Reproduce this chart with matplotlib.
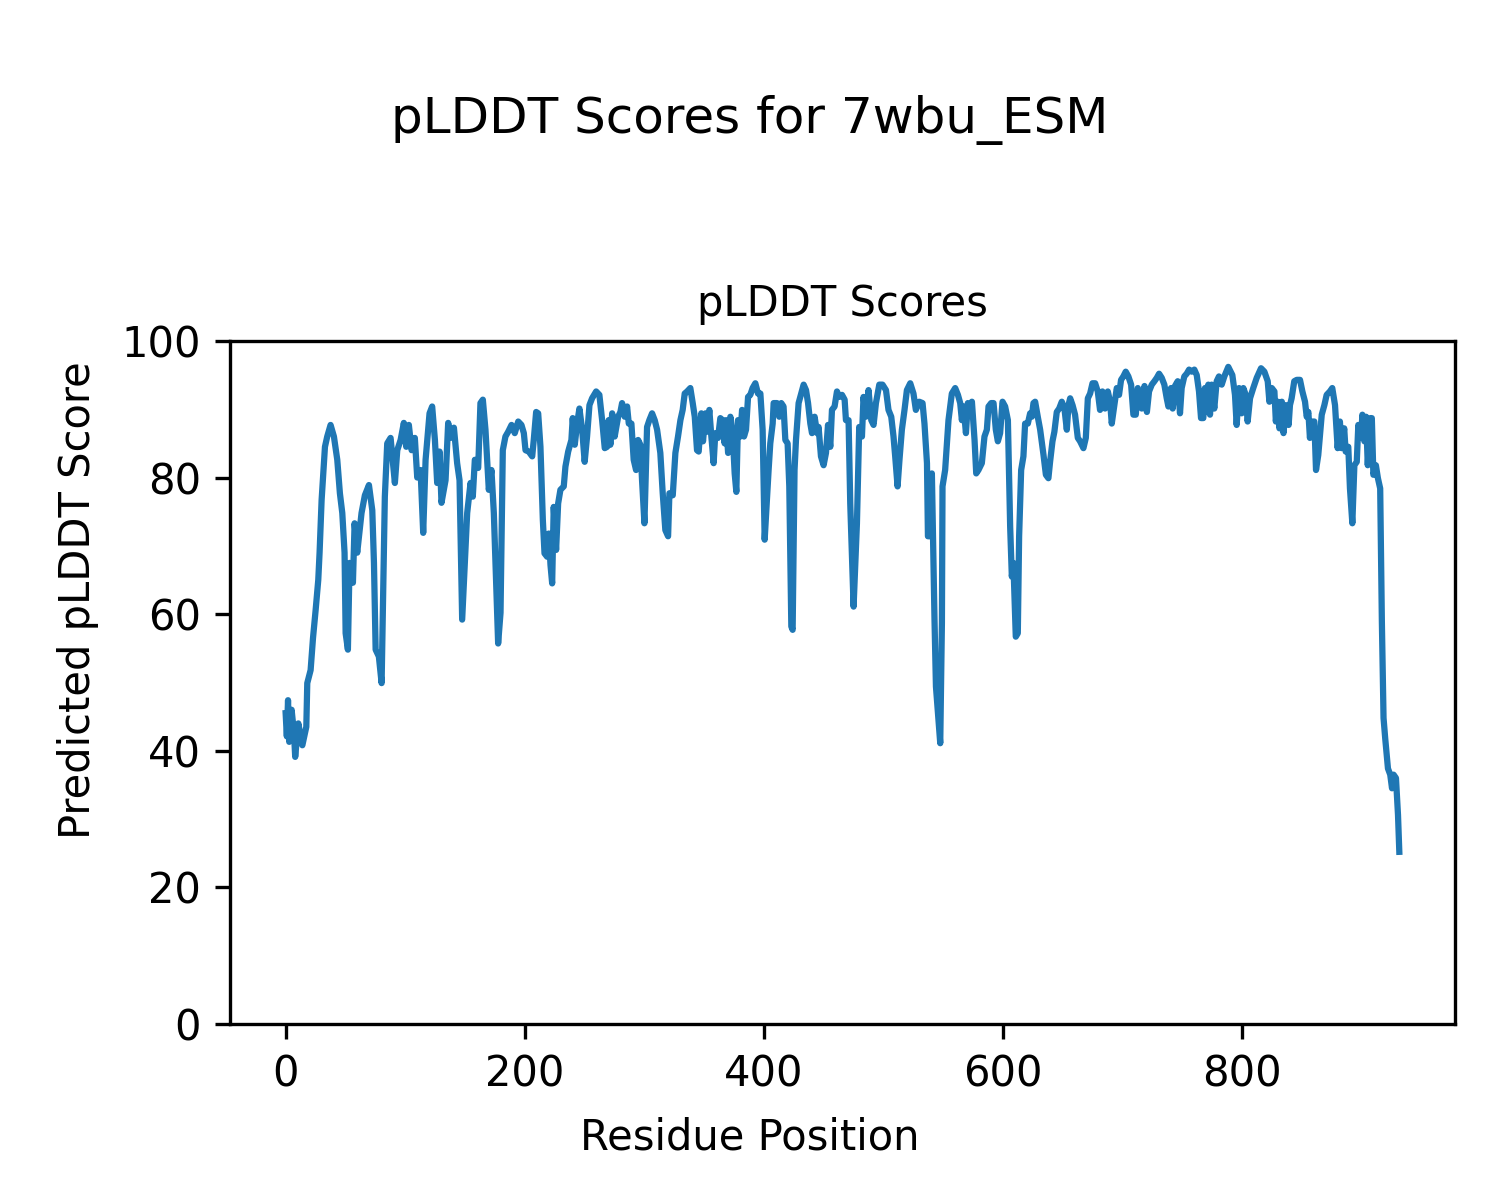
import matplotlib
matplotlib.use('Agg')
from matplotlib import pyplot as plt

protein = '7wbu_ESM'

# residue positions and pLDDT scores
residues = [
    0, 1, 2, 3, 5, 7, 8, 10.6, 14, 17.3, 18.1, 20.9, 22.9, 25.1, 27.3, 28.4, 30.1, 32.9, 34.8, 37.6,
    40.4, 43.2, 45.4, 47.4, 49.3, 50.2, 52.1, 53.5, 56.3, 57.7, 59.9, 63.5, 66.3, 69.7, 72.5, 73.9,
    75.3, 78, 80.3, 83, 85, 87.8, 91.4, 93.4, 96.2, 98.9, 100.9, 103.1, 105.4, 108.1, 110.1, 112.9,
    115.1, 117.1, 120.4, 122.6, 124.9, 126.8, 128.8, 130.4, 133.8, 136, 138, 140.8, 143.5, 145.5,
    147.7, 151.9, 154.7, 156.6, 158.3, 161.1, 163, 165, 167.2, 168.6, 170, 172.2, 174.2, 177.8,
    179.8, 181.7, 183.9, 186.2, 189, 191.7, 194.6, 197.3, 199.3, 200.7, 203.4, 206.3, 207.6, 209.6,
    211.3, 213.2, 215.2, 216.6, 218.8, 220.2, 221.6, 223, 224.3, 226.3, 228, 229.9, 232.7, 234.1,
    236.4, 239.1, 240.2, 241.9, 243.9, 245.8, 248.1, 250.2, 252.2, 254.2, 256.4, 259.8, 262.5,
    264.8, 267, 269, 270.3, 271.7, 273.2, 275.3, 278.2, 280.1, 281.5, 283.7, 285.7, 287.1, 289.3,
    291.2, 293.2, 294.9, 296.8, 298.2, 300.2, 302.4, 304.3, 306.6, 308.8, 310.8,
    313.5, 315.5, 317.7, 320, 321.1, 323.9, 326.1, 328.3, 330.3, 332.2, 333.9, 335.9, 338.6, 340.6,
    342.3, 344.2, 345.6, 347.8, 349.2, 351.3, 352.6, 354.5, 356.2, 358.1, 359.5, 361.8, 363.7,
    365.6, 367.3, 368.5, 370.2, 372.1, 374, 375.7, 377.1, 378.5, 380.4, 381.9, 383.5, 385.2, 386.9,
    388.8, 390.7, 393, 395.2, 397.2, 399.1, 400.8, 402.8, 404.1, 405.5, 407.5, 408.3, 411.1, 413,
    414.7, 416.6, 418.1, 420, 421.4, 423.1, 424.2, 425.8, 427, 429.2, 431.4, 433.4, 435.4, 437.1,
    439, 440.4, 442.6, 444.6, 445.9, 447.9, 450.1, 452.1, 453.8, 455.7, 457.1, 459.3, 461.3, 463.2,
    465.5, 467.7, 468.8,
    471, 472.4, 475.2, 478, 479.9, 482.2, 483.5, 485.5, 487.7, 490, 491.9, 493.9, 496.7, 499.4,
    502.3, 504.4, 506.7, 508.6, 510, 512, 513.6, 515.6, 517.8, 519.8, 522.6, 525.3, 527.3, 530.1,
    532.9, 534.5, 536.6, 537.4, 539.3, 540.7, 542.9, 544.1, 546.2, 547.7, 549.1, 549.6, 551.8,
    554.6, 557.4, 560.2, 562.5, 564.4, 565.8, 567.2, 569.2, 570.8, 572.7, 574.2, 576.4, 577.8,
    579.7, 582.5, 584.7, 586.7, 588.1, 590.3, 592.3, 594.2, 595.9, 597.8, 599.8, 602, 604.3, 606.2,
    607.6, 608.9, 610.9, 612.6, 613.7, 615.4, 617.3, 618.7, 621, 622.9, 624.3, 625.7, 627.1, 629.3,
    631.3,
    634.1, 636.1, 638.2, 639.6, 641.6, 643.2, 645.2, 647.2, 649.4, 651.6, 653.6, 655, 656.4, 658.4,
    660.5, 662.8, 664.7, 667.5, 669.5, 671.2, 673.1, 675.1, 677.3, 679.5, 681.4, 683.4, 685.6,
    687.9, 689.8, 691.2, 693.4, 695.4, 697.3, 699, 700.9, 702.9, 705.1, 707.4, 709.3, 711.3, 713,
    714.9, 716.3, 718.6, 720.6, 722.4, 724.7, 726.9, 728.9, 730.8, 733, 735.2, 737.2, 738.6, 740.8,
    742.2, 744.1, 746.4, 748.3, 749.7, 751.9, 753.9, 755.9, 758.1, 760.3, 762.3, 764.2, 765.9,
    767.8, 769.2, 770.6, 772, 773.4, 774.8, 777, 779, 780.9, 783.2, 785.4,
    788.7, 792.1, 794.3, 795.7, 797.7, 799.9, 801.3, 803.3, 804.9, 806.9, 809.6, 812.5, 816.1,
    818.9, 821.7, 823.1, 825.1, 827.3, 828.5, 830.2, 831.5, 833.5, 834.9, 836.9, 839.2, 840.3,
    841.7, 843.9, 846, 848.7, 850.7, 852.9, 854.3, 855.7, 857, 859, 860.7, 862.1, 864, 865.4, 866.9,
    869.1, 871, 873.7, 875.7, 878, 880.2, 882.1, 883.5, 885.7, 886.9, 889.1, 890.5, 892.5, 894.2,
    896.2, 897.5, 899.8, 900.9, 902.6, 904, 905.4, 907.4, 908.8, 910.1, 912.2, 913.9, 915.8, 917.2,
    918.6, 920, 922.3, 924.2, 925.7, 927, 929, 930.7, 931.8,
]
plddt = [
    45.5, 42.1, 47.4, 41.3, 46, 42.6, 39.1, 44, 40.8, 43.5, 49.9, 51.8, 56.5, 60.6, 65, 69, 76.7, 84.5, 86, 87.7,
    86, 82.6, 77.7, 74.8, 69, 57.2, 54.8, 67.5, 64.6, 73.3, 69, 74.8, 77.4, 78.9, 75.2, 67.5,
    54.8, 53.8, 49.9, 77.2, 85, 85.8, 79.2, 84, 85.5, 88, 84.5, 87.7, 84, 85.8, 80, 81.1,
    71.9, 82.6, 89.4, 90.4, 85.5, 79.2, 83.8, 76.3, 79.6, 88, 85.8, 87.3, 82.1, 79.6,
    59.2, 74.8, 79.2, 77.2, 82.6, 81.4, 90.9, 91.4, 87, 82.6, 78.2, 81.1, 74.8, 55.7,
    60.2, 84, 86, 86.7, 87.7, 86.5, 88.2, 87.7, 86.5, 84, 83.8, 83.1, 85.5, 89.6,
    89.4, 84.5, 73.8, 68.9, 68.4, 71.8, 67.2, 64.5, 75.7, 69.4, 76.2, 78.2, 78.7, 81.6,
    83.8, 85.5, 88.7, 84.8, 87.9, 90.1, 87, 82.3, 86, 90.6, 91.6, 92.6, 92.1,
    88.4, 84.3, 84.5, 88.4, 84.8, 89.4, 86, 88.9, 89.6, 90.9, 88.9, 90.4, 87.9, 87.9,
    82.6, 81.1, 85.5, 84.8, 79.6, 73.3, 87.4, 88.4, 89.4, 88.4, 87,
    83.6, 77.7, 72.3, 71.4, 77.7, 77.4, 83.6, 86, 88.4, 89.9, 92.3, 92.6, 93.1, 90.9,
    88.9, 84, 83.8, 89.4, 85.3, 89.4, 86.7, 89.9, 86, 82.1, 86.5, 85.8, 88.7,
    88.4, 85, 88.4, 83.6, 88.9, 86.5, 80.6, 77.9, 88.4, 86, 89.9, 86, 87, 91.8,
    92.1, 93.1, 93.8, 92.3, 92.3, 87, 70.9, 77.2, 81.1, 85, 87.9, 90.9, 90.9, 88.9,
    90.9, 90.4, 85.5, 85, 78.7, 58.2, 57.7, 81.1, 85.5, 90.9, 92.3, 93.6, 92.8, 90.9,
    87.9, 86.5, 88.9, 86.5, 87.4, 83.1, 81.8, 83.6, 87.7, 84.5, 89.9, 90.4, 92.6, 91.8,
    92.1, 91.4, 88.4,
    88.4, 76.2, 61.1, 73.3, 87.4, 86, 91.8, 88.9, 92.8, 88.4, 87.7, 90.9, 93.6, 93.6,
    92.8, 89.9, 88.9, 86, 83.1, 78.7, 82.6, 87, 89.9, 92.8, 93.8, 92.3, 89.9, 91.1,
    90.9, 87.9, 82.1, 71.4, 71.4, 80.6, 59.2, 49.4, 44.5, 41.1, 58.7, 78.7, 81.1,
    88.4, 92.3, 93.1, 92.1, 90.9, 88.4, 90.4, 86.5, 90.9, 89.4, 91.1, 85.5, 80.6,
    81.1, 82.1, 86, 87, 90.4, 90.9, 90.9, 87, 85.3, 86.5, 91.1, 90.4, 88.4, 72.8,
    65.5, 67.5, 56.7, 57.2, 71.4, 81.1, 83.1, 87.9, 87.9, 89.4, 88.9, 90.9, 91.1, 88.9,
    87,
    83.3, 80.4, 79.9, 82.3, 85.3, 86.7, 89.6, 90.1, 91.1, 90.1, 87, 90.6, 91.6, 90.6,
    89.2, 85.8, 85.3, 84.3, 85.8, 91.6, 92.3, 93.8, 93.8, 92.6, 89.9, 92.6, 90.1,
    92.6, 91.1, 87.9, 90.6, 93.1, 92.1, 94.3, 94.8, 95.5, 94.8, 93.6, 89.2, 89.2, 93.1,
    92.1, 90.1, 93.4, 89.6, 92.6, 93.6, 94.1, 94.6, 95.2, 94.6, 93.6, 91.6, 90.4, 93.1,
    90.1, 93.4, 94.1, 89.4, 93.1, 94.8, 95.2, 95.8, 95.5, 95.8, 95, 92.6, 88.7,
    88.7, 93.1, 89.6, 93.6, 89.2, 93.6, 90.1, 94.1, 94.8, 93.6, 94.8,
    96.2, 95, 92.1, 87.7, 93.1, 89.4, 93.1, 92.1, 88.2, 91.6, 93.1, 94.6, 96,
    95.5, 94.1, 91.1, 93.1, 92.6, 88.2, 91.1, 87.2, 91.1, 86.5, 90.6, 87.7, 90.6,
    91.6, 94.1, 94.3, 94.3, 92.6, 91.1, 88.9, 89.6, 85.8, 88.2, 88.2, 81.1, 83.3, 86.2, 89.2,
    90.6, 92.1, 92.6, 93.1, 90.6, 84.3, 88.2, 84.3, 87.2, 83.8, 84.5, 78.4, 73.3, 81.8,
    82.3, 87.7, 85.8, 89.2, 85.3, 88.9, 81.8, 88.7, 88.7, 80.4, 81.8, 79.9, 78.4, 58.9,
    44.8, 41.8, 37.4, 36.5, 34.5, 36.5, 36, 30.6, 25.2,
]

fig = plt.figure(figsize=(5, 4), dpi=300)
ax = fig.add_axes([0.1533, 0.1467, 0.8167, 0.5692])

ax.plot(residues, plddt)

fig.suptitle('pLDDT Scores for ' + protein, y=0.9, va='center', fontsize=12)
ax.set_title('pLDDT Scores', fontsize=10)
# axis labels are figure-level, centred on the figure
fig.supxlabel('Residue Position', y=0.052, va='center', fontsize=10)
fig.supylabel('Predicted pLDDT Score', x=0.052, ha='center', va='center', fontsize=10)
ax.set_ylim(0, 100)

fig.savefig('out.png', dpi=300)
